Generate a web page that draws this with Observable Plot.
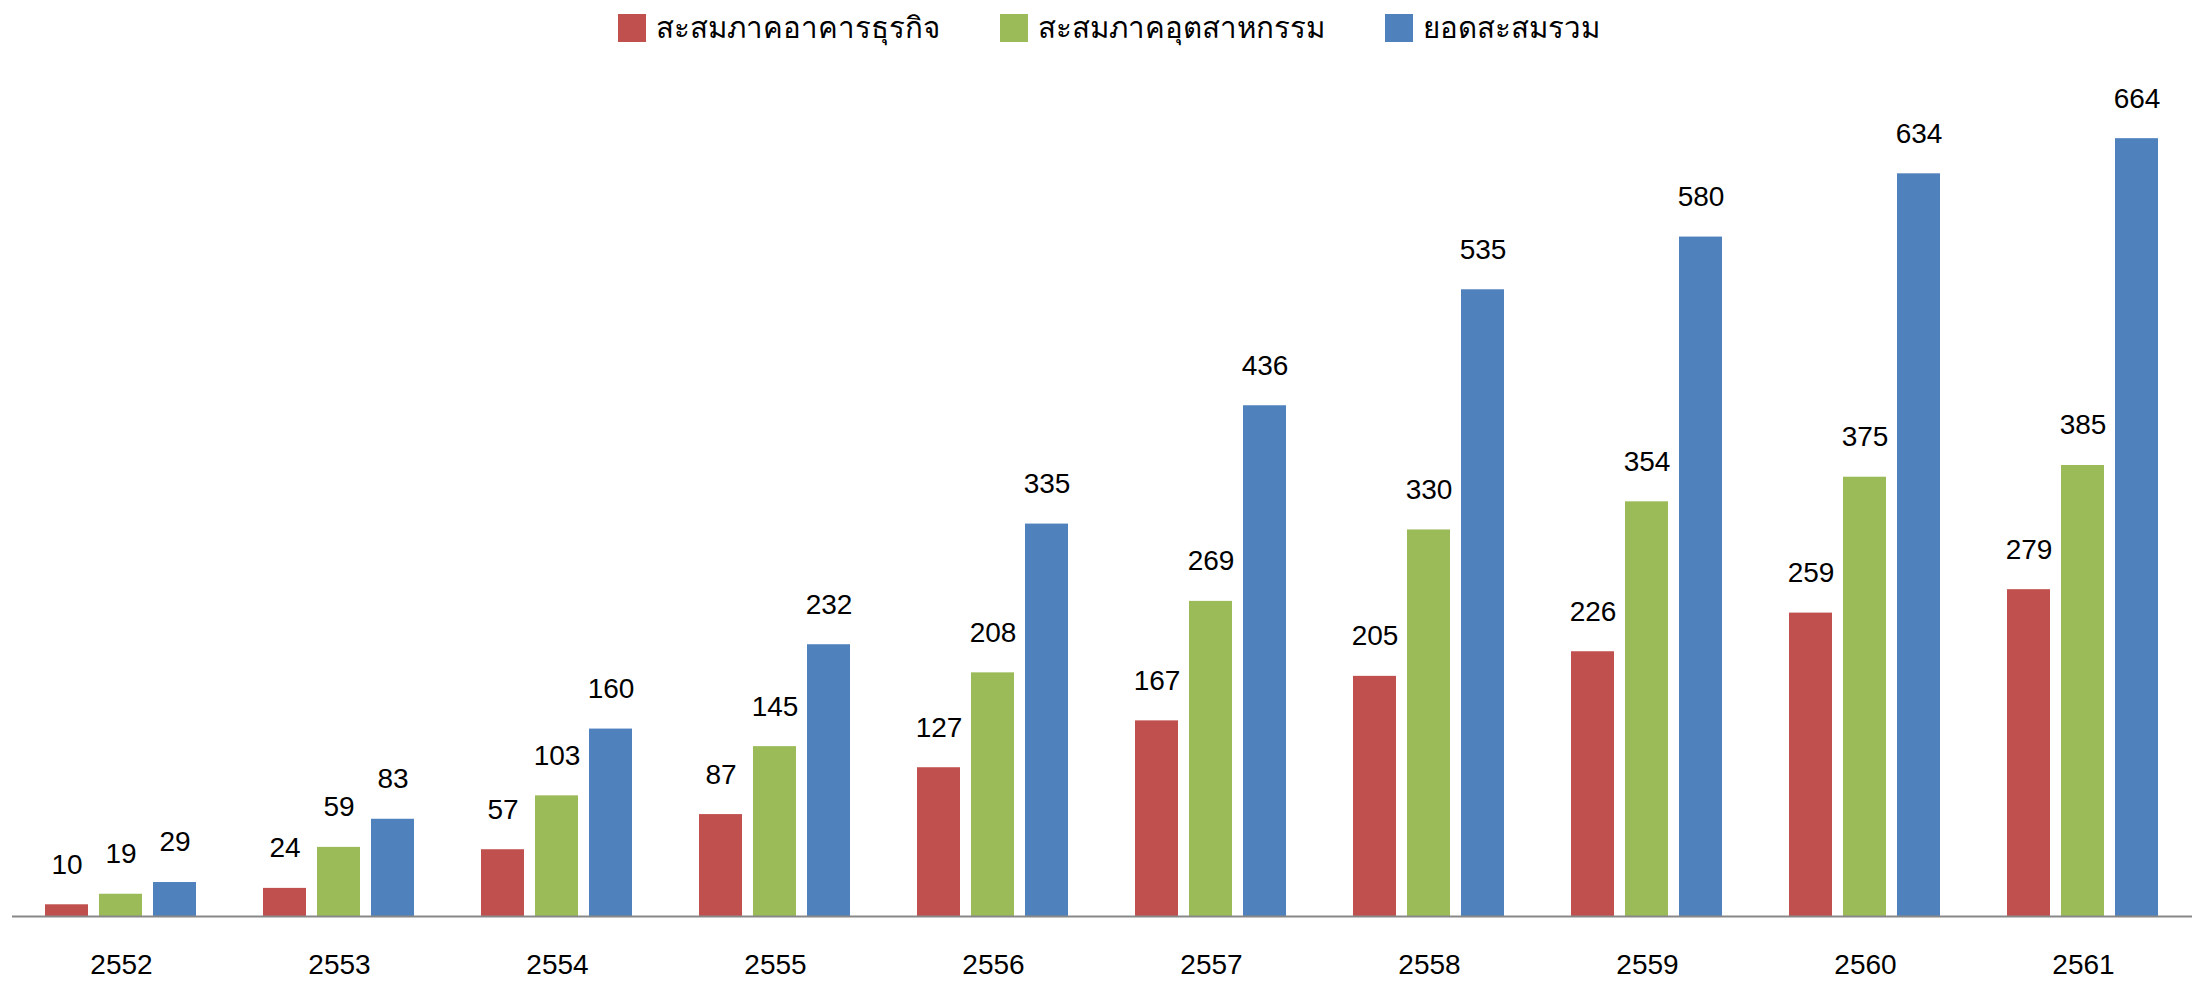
<!DOCTYPE html>
<html>
<head>
<meta charset="utf-8">
<script src="https://cdn.jsdelivr.net/npm/d3@7"></script>
<script src="https://cdn.jsdelivr.net/npm/@observablehq/plot@0.6"></script>
<style>
  html, body { margin: 0; padding: 0; background: #fff; }
  #legend { height: 55px; display: flex; align-items: center; justify-content: center; padding-left: 12px; font-family: "Liberation Sans", "Noto Sans", sans-serif; font-size: 29.5px; color: #000; }
  .item { display: flex; align-items: center; margin: 0 30px; }
  .sw { width: 28px; height: 28px; margin-right: 10px; }
</style>
</head>
<body>
<div id="legend"></div>
<div id="chart"></div>
<script>
const years = ["2552","2553","2554","2555","2556","2557","2558","2559","2560","2561"];
const seriesNames = ["สะสมภาคอาคารธุรกิจ", "สะสมภาคอุตสาหกรรม", "ยอดสะสมรวม"];
const colors = ["#C0504D", "#9BBB59", "#4F81BD"];
const commercial = [10, 24, 57, 87, 127, 167, 205, 226, 259, 279];
const industrial = [19, 59, 103, 145, 208, 269, 330, 354, 375, 385];
const total = [29, 83, 160, 232, 335, 436, 535, 580, 634, 664];

const seriesValues = [commercial, industrial, total];
const data = [];
years.forEach((y, i) => {
  seriesNames.forEach((s, j) => data.push({year: y, series: s, value: seriesValues[j][i]}));
});

const legend = document.getElementById("legend");
seriesNames.forEach((s, j) => {
  const it = document.createElement("div");
  it.className = "item";
  const sw = document.createElement("div");
  sw.className = "sw";
  sw.style.background = colors[j];
  const t = document.createElement("span");
  t.textContent = s;
  it.appendChild(sw); it.appendChild(t);
  legend.appendChild(it);
});

const chart = Plot.plot({
  width: 2206,
  height: 926,
  marginTop: 41,
  marginBottom: 65,
  marginLeft: 12,
  marginRight: 14,
  style: {fontFamily: "'Liberation Sans', 'Noto Sans', sans-serif", fontSize: "28px", color: "#000", background: "#fff"},
  fx: {domain: years, padding: 0, label: null, axis: "bottom", tickSize: 0, tickPadding: 38},
  x: {domain: seriesNames, paddingInner: 0.2018, paddingOuter: 0.601, axis: null},
  y: {domain: [0, 700], axis: null},
  color: {domain: seriesNames, range: colors},
  marks: [
    Plot.barY(data, {fx: "year", x: "series", y: "value", fill: "series"}),
    Plot.text(data, {fx: "year", x: "series", y: "value", text: d => String(d.value), dy: -40, fill: "#000"}),
    Plot.ruleY([0], {stroke: "#888", strokeWidth: 2})
  ]
});
document.getElementById("chart").appendChild(chart);
</script>
</body>
</html>
